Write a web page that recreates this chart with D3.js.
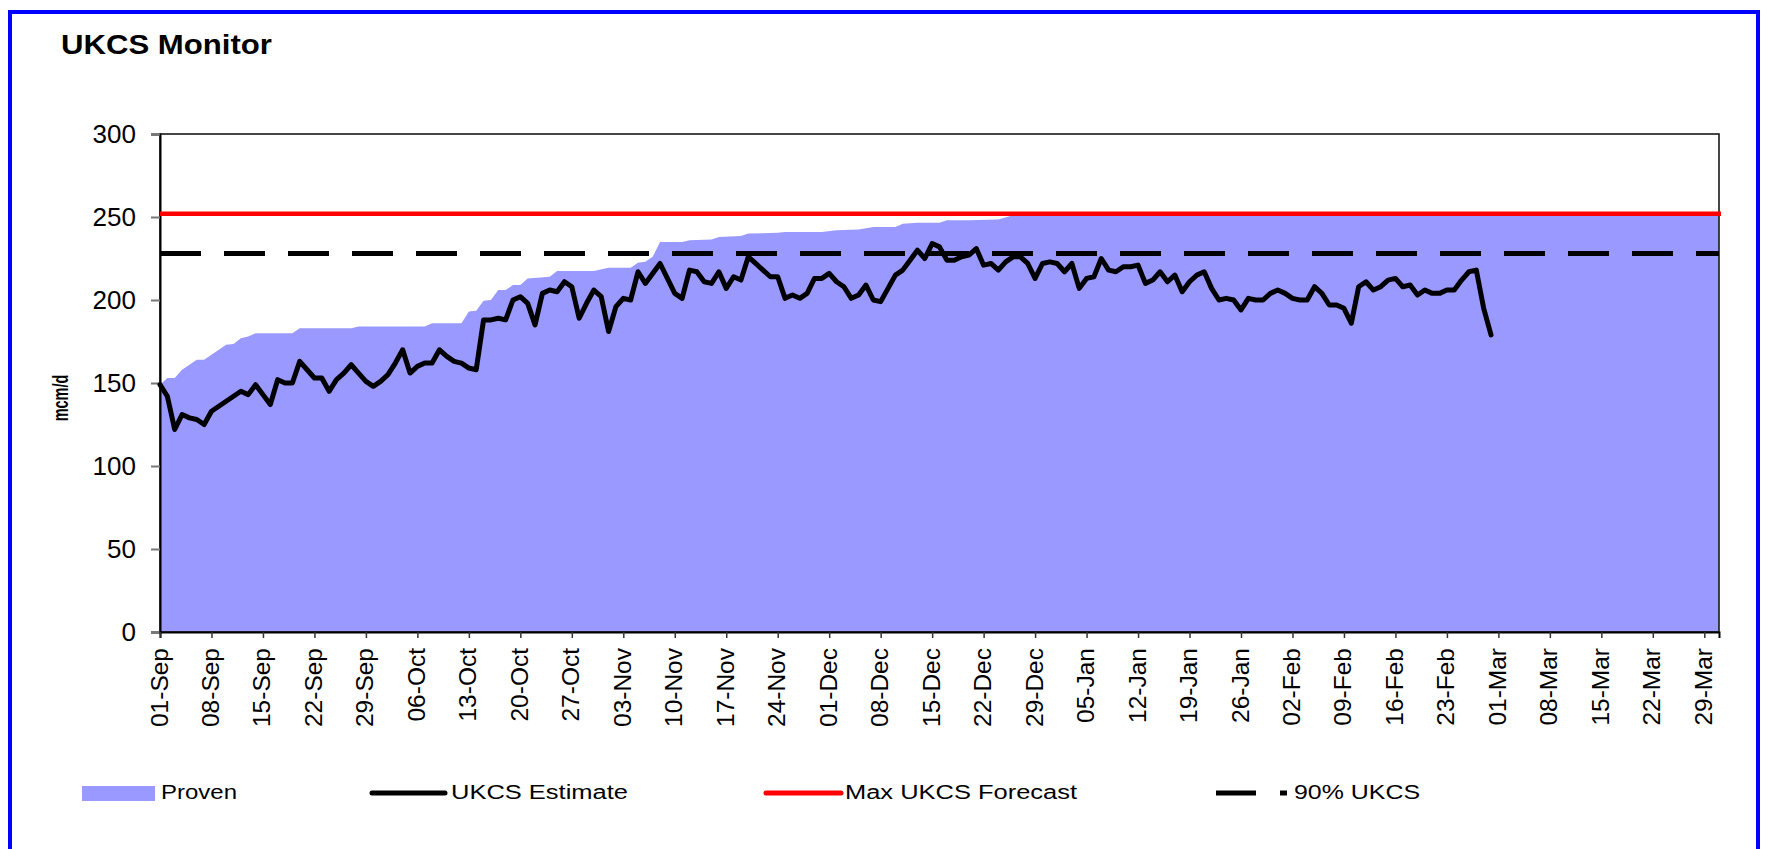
<!DOCTYPE html>
<html>
<head>
<meta charset="utf-8">
<script src="https://cdn.jsdelivr.net/npm/d3@7/dist/d3.min.js"></script>
<style>
  html, body { margin: 0; padding: 0; background: #fff; }
  svg { display: block; font-family: "Liberation Sans", Arial, sans-serif; }
</style>
</head>
<body>
<svg id="chart" width="1765" height="849"></svg>
<script>
// ---------------- data ----------------
const chartTitle = "UKCS Monitor";
const yAxisTitle = "mcm/d";
const seriesNames = ["Proven", "UKCS Estimate", "Max UKCS Forecast", "90% UKCS"];

const axisStart = "2007-09-01";
const axisEnd = "2008-03-31";

const xTickDates = [
  "2007-09-01","2007-09-08","2007-09-15","2007-09-22","2007-09-29",
  "2007-10-06","2007-10-13","2007-10-20","2007-10-27",
  "2007-11-03","2007-11-10","2007-11-17","2007-11-24",
  "2007-12-01","2007-12-08","2007-12-15","2007-12-22","2007-12-29",
  "2008-01-05","2008-01-12","2008-01-19","2008-01-26",
  "2008-02-02","2008-02-09","2008-02-16","2008-02-23",
  "2008-03-01","2008-03-08","2008-03-15","2008-03-22","2008-03-29"
];
const yTicks = [0, 50, 100, 150, 200, 250, 300];

// Proven capacity (area) – points read where the outline changes
const provenDates = [
  "2007-09-01","2007-09-02","2007-09-03","2007-09-04","2007-09-05","2007-09-06","2007-09-07",
  "2007-09-08","2007-09-09","2007-09-10","2007-09-11","2007-09-12","2007-09-13","2007-09-14",
  "2007-09-19","2007-09-20","2007-09-27","2007-09-28","2007-10-07","2007-10-08","2007-10-12",
  "2007-10-13","2007-10-14","2007-10-15","2007-10-16","2007-10-17","2007-10-18","2007-10-19",
  "2007-10-20","2007-10-21","2007-10-24","2007-10-25","2007-10-30","2007-11-01","2007-11-04",
  "2007-11-05","2007-11-06","2007-11-07","2007-11-08","2007-11-11","2007-11-12","2007-11-15",
  "2007-11-16","2007-11-19","2007-11-20","2007-11-24","2007-11-25","2007-11-30","2007-12-02",
  "2007-12-05","2007-12-07","2007-12-10","2007-12-11","2007-12-13","2007-12-16","2007-12-17",
  "2007-12-20","2007-12-24","2007-12-26","2008-03-31"
];
const provenValues = [
  149, 153, 153, 158, 161, 164, 164,
  167, 170, 173, 173.5, 177, 178, 180,
  180, 183, 183, 184, 184, 186, 186,
  193, 193.5, 199.5, 200, 206, 206, 209,
  209, 213, 214, 217.5, 217.5, 219.5, 219.5,
  222.5, 223, 226, 235, 235, 236, 236.5,
  238, 238.5, 240, 240.5, 241, 241, 242,
  242.5, 244, 244, 246, 246.5, 246.5, 248,
  248, 248.5, 251, 251
];

// UKCS Estimate – one value per day from 01-Sep-2007 to 29-Feb-2008
const estimateStart = "2007-09-01";
const estimateValues = [
  149,142,122,131,129,128,125,133,136,139,
  142,145,143,149,143,137,152,150,150,163,
  158,153,153,145,152,156,161,156,151,148,
  151,155,162,170,156,160,162,162,170,166,
  163,162,159,158,188,188,189,188,200,202,
  198,185,204,206,205,211,208,189,198,206,
  202,181,196,201,200,217,210,216,222,213,
  204,201,218,217,211,210,217,207,214,212,
  226,222,218,214,214,201,203,201,204,213,
  213,216,211,208,201,203,209,200,199,207,
  215,218,224,230,225,234,232,224,224,226,
  227,231,221,222,218,223,226,226,222,213,
  222,223,222,217,222,207,213,214,225,218,
  217,220,220,221,210,212,217,211,215,205,
  211,215,217,207,200,201,200,194,201,200,
  200,204,206,204,201,200,200,208,204,197,
  197,195,186,208,211,206,208,212,213,208,
  209,203,206,204,204,206,206,212,217,218,
  195,179
];

const maxForecast = 252;
const ukcs90 = 228;

// ---------------- drawing ----------------
const svg = d3.select("#chart");
const W = 1765, H = 849;
const plot = { left: 160, right: 1719, top: 134, bottom: 632 };
const parse = d3.utcParse("%Y-%m-%d");
const fmt = d3.utcFormat("%d-%b");

const x = d3.scaleUtc().domain([parse(axisStart), parse(axisEnd)]).range([plot.left, plot.right]);
const y = d3.scaleLinear().domain([0, 300]).range([plot.bottom, plot.top]);

svg.append("rect").attr("width", W).attr("height", H).attr("fill", "#fff");

// outer blue frame
svg.append("rect").attr("x", 10).attr("y", 12).attr("width", 1748).attr("height", 900)
  .attr("fill", "none").attr("stroke", "#0000FF").attr("stroke-width", 4);

// title
svg.append("text").attr("x", 61).attr("y", 54).text(chartTitle)
  .attr("font-size", 27).attr("font-weight", "bold").attr("fill", "#000")
  .attr("textLength", 211).attr("lengthAdjust", "spacingAndGlyphs");

// proven area
const provenData = provenDates.map((d, i) => ({ date: parse(d), v: provenValues[i] }));
svg.append("path").datum(provenData)
  .attr("fill", "#9999FF")
  .attr("d", d3.area().x(d => x(d.date)).y0(y(0)).y1(d => y(d.v)));

// plot frame
svg.append("rect").attr("x", plot.left).attr("y", plot.top)
  .attr("width", plot.right - plot.left).attr("height", plot.bottom - plot.top)
  .attr("fill", "none").attr("stroke", "#1a1a1a").attr("stroke-width", 1.6);

// y axis
const yAxis = d3.axisLeft(y).tickValues(yTicks).tickSize(9).tickPadding(15).tickFormat(d3.format("d"));
const gy = svg.append("g").attr("transform", `translate(${plot.left},0)`).call(yAxis);
gy.select(".domain").attr("stroke", "#000").attr("stroke-width", 2);
gy.selectAll(".tick line").attr("stroke", "#777").attr("stroke-width", 2);
gy.selectAll(".tick text").attr("font-size", 26).attr("fill", "#000")
  .attr("font-family", "Liberation Sans, Arial, sans-serif");

// x axis
const xAxis = d3.axisBottom(x).tickValues(xTickDates.map(parse)).tickSize(6).tickFormat(fmt);
const gx = svg.append("g").attr("transform", `translate(0,${plot.bottom})`).call(xAxis);
gx.select(".domain").attr("stroke", "#000").attr("stroke-width", 2);
gx.selectAll(".tick line").attr("stroke", "#333").attr("stroke-width", 1.5);
gx.selectAll(".tick text")
  .attr("font-size", 24.5).attr("fill", "#000")
  .attr("font-family", "Liberation Sans, Arial, sans-serif")
  .attr("text-anchor", "end")
  .attr("transform", "translate(7,16) rotate(-90)")
  .attr("x", 0).attr("y", 0).attr("dy", 0);

// y axis title (glyphs stretched horizontally as in the reference)
svg.append("text")
  .attr("transform", "translate(68,398) scale(1.5,1) rotate(-90)")
  .attr("text-anchor", "middle")
  .attr("font-size", 14.5).attr("font-weight", "bold").text(yAxisTitle);

// estimate line
const startDate = parse(estimateStart);
const estData = estimateValues.map((v, i) => ({ date: d3.utcDay.offset(startDate, i), v }));
svg.append("path").datum(estData)
  .attr("fill", "none").attr("stroke", "#000").attr("stroke-width", 5)
  .attr("stroke-linejoin", "round").attr("stroke-linecap", "round")
  .attr("d", d3.line().x(d => x(d.date)).y(d => y(d.v)));

// max forecast line
svg.append("line")
  .attr("x1", plot.left).attr("x2", plot.right + 2)
  .attr("y1", y(maxForecast)).attr("y2", y(maxForecast))
  .attr("stroke", "#FF0000").attr("stroke-width", 4.5);

// 90% line
svg.append("line")
  .attr("x1", plot.left).attr("x2", plot.right)
  .attr("y1", y(ukcs90)).attr("y2", y(ukcs90))
  .attr("stroke", "#000").attr("stroke-width", 5)
  .attr("stroke-dasharray", "41,23");

// legend
const legY = 793, legBase = 799;
const leg = svg.append("g").attr("font-size", 19.5).attr("fill", "#000");
// Proven
leg.append("rect").attr("x", 82).attr("y", 786).attr("width", 73).attr("height", 15).attr("fill", "#9999FF");
leg.append("text").attr("x", 161).attr("y", legBase).text(seriesNames[0])
  .attr("textLength", 76).attr("lengthAdjust", "spacingAndGlyphs");
// Estimate
leg.append("line").attr("x1", 372).attr("x2", 445).attr("y1", legY).attr("y2", legY)
  .attr("stroke", "#000").attr("stroke-width", 5).attr("stroke-linecap", "round");
leg.append("text").attr("x", 451).attr("y", legBase).text(seriesNames[1])
  .attr("textLength", 177).attr("lengthAdjust", "spacingAndGlyphs");
// Max
leg.append("line").attr("x1", 766).attr("x2", 841).attr("y1", legY).attr("y2", legY)
  .attr("stroke", "#FF0000").attr("stroke-width", 5).attr("stroke-linecap", "round");
leg.append("text").attr("x", 845).attr("y", legBase).text(seriesNames[2])
  .attr("textLength", 232).attr("lengthAdjust", "spacingAndGlyphs");
// 90%
leg.append("line").attr("x1", 1216).attr("x2", 1287).attr("y1", legY).attr("y2", legY)
  .attr("stroke", "#000").attr("stroke-width", 5).attr("stroke-dasharray", "40,24");
leg.append("text").attr("x", 1294).attr("y", legBase).text(seriesNames[3])
  .attr("textLength", 126).attr("lengthAdjust", "spacingAndGlyphs");
</script>
</body>
</html>
